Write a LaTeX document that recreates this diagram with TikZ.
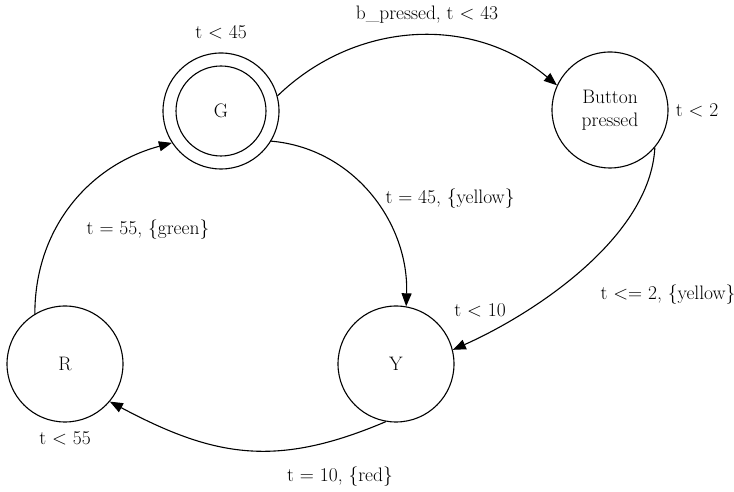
\documentclass[tikz,border=0pt]{standalone}
\usepackage{tikz}
\usetikzlibrary{arrows.meta, positioning}

\begin{document}
\begin{tikzpicture}[
    x=1pt, y=1pt,
    >={Triangle[length=13pt, width=10pt]},
    state/.style={draw, circle, line width=1.1pt, minimum size=116pt, inner sep=0pt, font=\fontsize{19.5}{23}\selectfont, align=center},
    inner/.style={draw, circle, line width=1.1pt, minimum size=90pt, inner sep=0pt},
    lbl/.style={font=\fontsize{19.5}{23}\selectfont, inner sep=0pt},
    edge/.style={->, line width=1.1pt},
]
    \useasboundingbox (0,0) rectangle (734,492);

    % states
    \node[state] (g) at (221,381) {};
    \node[inner, font=\fontsize{19.5}{23}\selectfont] (gin) at (g.center) {G};
    \node[state] (bp) at (610,382) {Button\\pressed};
    \node[state] (y) at (396,128) {Y};
    \node[state] (r) at (65,128) {R};

    % invariants
    \node[lbl] (ginv) at (221,460) {t < 45};
    \node[lbl] (bpinv) at (697,382) {t < 2};
    \node[lbl] (yinv) at (480,182) {t < 10};
    \node[lbl] (rinv) at (65,54) {t < 55};

    % transitions
    \draw[edge] (g.15) to[out=44, in=140] (bp.155);
    \draw[edge] (g.-31) to[out=-5, in=88] (y.80);
    \draw[edge] (bp.-40) to[out=-93, in=24, looseness=0.8] (y.14);
    \draw[edge] (y.-100) to[out=203, in=-28, looseness=1.1] (r.-40);
    \draw[edge] (r.121) to[out=90, in=195] (g.213);

    % guards
    \node[lbl] (gbp) at (427,477) {b\_pressed, t < 43};
    \node[lbl] (gy) at (450,293) {t = 45, \{yellow\}};
    \node[lbl] (bpy) at (668,197) {t <= 2, \{yellow\}};
    \node[lbl] (yr) at (340,15) {t = 10, \{red\}};
    \node[lbl] (rg) at (148,262) {t = 55, \{green\}};
\end{tikzpicture}
\end{document}
